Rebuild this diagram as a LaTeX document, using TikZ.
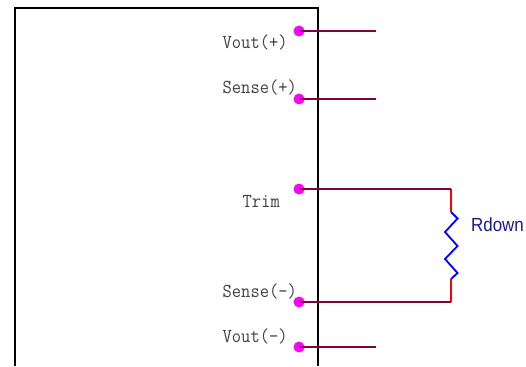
\documentclass[tikz,border=0pt]{standalone}
\usepackage{fontspec}
\setmainfont{Liberation Sans}
\begin{document}
\begin{tikzpicture}[x=1pt,y=-1pt,
  box/.style={draw=black,line width=2pt},
  wirel/.style={draw=wirec,line width=1.8pt},
  redl/.style={draw=red,line width=1.8pt},
  resl/.style={draw=blue,line width=1.8pt,line join=miter},
  pin/.style={circle,fill=magenta,inner sep=0pt,minimum size=11pt},
  lab/.style={inner sep=0pt,anchor=base west,text=black!75,font=\ttfamily\fontsize{18}{19}\selectfont,yscale=1.1,transform shape},
  rlab/.style={inner sep=0pt,anchor=base west,text=rdown,font=\fontsize{19}{21}\selectfont,xscale=.89,transform shape}]
\definecolor{wirec}{HTML}{800040}
\definecolor{rdown}{HTML}{1A1A8C}
\definecolor{magenta}{HTML}{FF00FF}
\useasboundingbox (0,0) rectangle (526,366);
\fill[white] (0,0) rectangle (526,366);
\path[box] (14.5,366) -- (14.5,8.5) -- (318,8.5) -- (318,366);
\coordinate (e1) at (376,31);
\coordinate (e2) at (376,99);
\coordinate (e5) at (376,347);
\coordinate (c3) at (451,189);
\coordinate (c4) at (451,302);
\coordinate (r1) at (451,212);
\coordinate (r2) at (451,279);
\path[redl] (c3) -- (r1);
\path[redl] (c4) -- (r2);
\node[pin] (p1) at (299,31) {};
\node[pin] (p2) at (299,99) {};
\node[pin] (p3) at (299,189) {};
\node[pin] (p4) at (299,302) {};
\node[pin] (p5) at (299,347) {};
\path[wirel] (p1.center) -- (e1);
\path[wirel] (p2.center) -- (e2);
\path[wirel] (p3.center) -- (c3);
\path[wirel] (p4.center) -- (c4);
\path[wirel] (p5.center) -- (e5);
\path[resl] (r1) -- (457.5,218.5) -- (445,232) -- (457.5,246) -- (445,259) -- (457.5,273) -- (r2);
\node[lab] (t1) at (222.5,49) {Vout(+)};
\node[lab] (t2) at (222.5,94) {Sense(+)};
\node[lab] (t3) at (242.5,207) {Trim};
\node[lab] (t4) at (222.5,297) {Sense(-)};
\node[lab] (t5) at (222.5,342) {Vout(-)};
\node[rlab] (t6) at (471,231) {Rdown};
\end{tikzpicture}
\end{document}
